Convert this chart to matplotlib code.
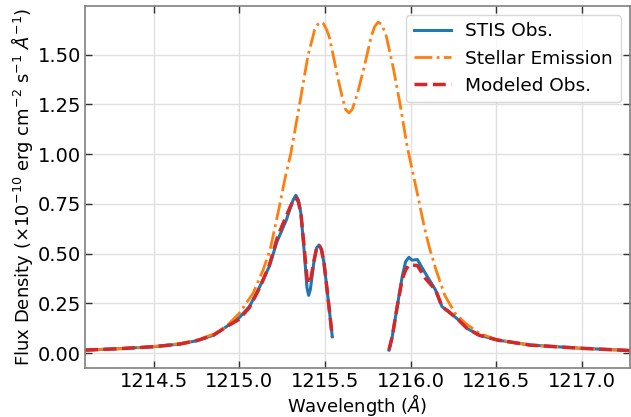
import numpy as np
import matplotlib
matplotlib.use("Agg")
import matplotlib.pyplot as plt

# Stellar (intrinsic) emission profile
wl_star = [1214.10, 1214.30, 1214.50, 1214.65, 1214.75, 1214.85, 1214.92, 1215.00,
           1215.08, 1215.14, 1215.18, 1215.23, 1215.27, 1215.30, 1215.35, 1215.40,
           1215.44, 1215.458, 1215.476, 1215.492, 1215.51, 1215.525, 1215.55, 1215.575,
           1215.60, 1215.62, 1215.64, 1215.66, 1215.69, 1215.73, 1215.77, 1215.79,
           1215.81, 1215.83, 1215.855, 1215.90, 1215.94, 1215.98, 1216.02, 1216.04,
           1216.08, 1216.11, 1216.15, 1216.20, 1216.26, 1216.32, 1216.40, 1216.50,
           1216.70, 1217.00, 1217.30]
flux_star = [0.015, 0.022, 0.033, 0.047, 0.065, 0.095, 0.13, 0.20,
             0.30, 0.42, 0.52, 0.72, 0.89, 1.00, 1.24, 1.49,
             1.625, 1.652, 1.663, 1.655, 1.625, 1.59, 1.49, 1.385,
             1.29, 1.225, 1.207, 1.225, 1.305, 1.44, 1.59, 1.64,
             1.663, 1.652, 1.605, 1.43, 1.245, 1.04, 0.88, 0.80,
             0.635, 0.53, 0.415, 0.29, 0.20, 0.15, 0.10, 0.068,
             0.04, 0.024, 0.012]

# STIS observation (gap = masked airglow region)
wl_obs = [1214.10, 1214.30, 1214.50, 1214.65, 1214.75, 1214.85, 1214.92, 1215.00,
          1215.06, 1215.12, 1215.175, 1215.22, 1215.25, 1215.275, 1215.30, 1215.315,
          1215.33, 1215.345, 1215.36, 1215.38, 1215.395, 1215.405, 1215.415, 1215.437,
          1215.452, 1215.466, 1215.48, 1215.495, 1215.515, 1215.543, 1215.70,
          1215.874, 1215.893, 1215.922, 1215.951, 1215.971, 1215.99, 1216.01, 1216.04,
          1216.087, 1216.146, 1216.184, 1216.223, 1216.281, 1216.33, 1216.40, 1216.51,
          1216.70, 1217.00, 1217.30]
flux_obs = [0.015, 0.022, 0.032, 0.045, 0.062, 0.09, 0.13, 0.178,
            0.235, 0.335, 0.435, 0.56, 0.62, 0.67, 0.735, 0.77,
            0.793, 0.77, 0.70, 0.50, 0.33, 0.29, 0.32, 0.467,
            0.53, 0.543, 0.52, 0.45, 0.30, 0.082, np.nan,
            0.015, 0.082, 0.233, 0.383, 0.459, 0.481, 0.467, 0.470,
            0.40, 0.317, 0.233, 0.208, 0.166, 0.124, 0.09, 0.065,
            0.04, 0.024, 0.012]

# Model (absorbed stellar profile)
flux_model = [0.015, 0.022, 0.032, 0.045, 0.062, 0.09, 0.13, 0.17,
              0.23, 0.33, 0.44, 0.575, 0.64, 0.69, 0.74, 0.765,
              0.78, 0.76, 0.70, 0.52, 0.38, 0.35, 0.36, 0.467,
              0.53, 0.543, 0.52, 0.45, 0.30, 0.082, np.nan,
              0.015, 0.082, 0.233, 0.37, 0.417, 0.442, 0.442, 0.44,
              0.375, 0.317, 0.233, 0.208, 0.166, 0.124, 0.09, 0.065,
              0.04, 0.024, 0.012]

fig = plt.figure(figsize=(6.31, 4.17), dpi=100)
ax = fig.add_axes([0.135, 0.118, 0.863, 0.868])

ax.plot(wl_obs, flux_obs, color="tab:blue", lw=2.2, label="STIS Obs.")
ax.plot(wl_star, flux_star, color="tab:orange", lw=2, ls="-.", label="Stellar Emission")
ax.plot(wl_obs, flux_model, color="tab:red", lw=2.5, ls="--", label="Modeled Obs.")

ax.set_xlim(1214.1, 1217.28)
ax.set_ylim(-0.074, 1.745)
ax.set_xticks([1214.5, 1215.0, 1215.5, 1216.0, 1216.5, 1217.0])
ax.set_yticks([0.0, 0.25, 0.5, 0.75, 1.0, 1.25, 1.5])
ax.xaxis.set_major_formatter(matplotlib.ticker.FormatStrFormatter("%.1f"))
ax.yaxis.set_major_formatter(matplotlib.ticker.FormatStrFormatter("%.2f"))

ax.tick_params(direction="in", top=True, right=True, length=5, width=1,
               color="#333333", labelsize=14, pad=3)
for sp in ax.spines.values():
    sp.set_color("#808080")
    sp.set_linewidth(1.2)
ax.grid(True, color="#e0e0e0", lw=1)
ax.set_axisbelow(True)

ax.set_xlabel(r"Wavelength ($\AA$)", fontsize=13, labelpad=1)
ax.set_ylabel(r"Flux Density ($\times10^{-10}$ erg cm$^{-2}$ s$^{-1}$ $\AA^{-1}$)", fontsize=13,
              labelpad=2)

ax.legend(loc="upper right", fontsize=13.3, framealpha=0.8, edgecolor="#cccccc")

fig.savefig("out.png", dpi=100)
